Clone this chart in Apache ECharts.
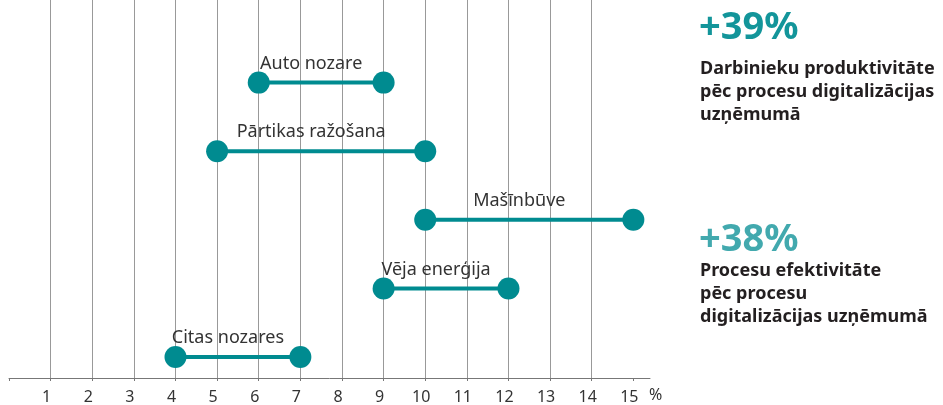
<!DOCTYPE html>
<html>
<head>
<meta charset="utf-8">
<script src="https://cdn.jsdelivr.net/npm/echarts@6/dist/echarts.min.js"></script>
<style>html,body{margin:0;padding:0;background:#fff}#c{width:943px;height:405px}</style>
</head>
<body>
<div id="c"></div>
<script>
// ---- data ----
var categories = ['Auto nozare', 'Pārtikas ražošana', 'Mašīnbūve', 'Vēja enerģija', 'Citas nozares'];
var startValues = [6, 5, 10, 9, 4];
var endValues = [9, 10, 15, 12, 7];
var tickValues = [0, 1, 2, 3, 4, 5, 6, 7, 8, 9, 10, 11, 12, 13, 14, 15];
var tickLabels = [1, 2, 3, 4, 5, 6, 7, 8, 9, 10, 11, 12, 13, 14, 15];
var axisUnit = '%';
var stat1Value = '+39%';
var stat1Text = 'Darbinieku produktivitāte\npēc procesu digitalizācijas\nuzņēmumā';
var stat2Value = '+38%';
var stat2Text = 'Procesu efektivitāte\npēc procesu\ndigitalizācijas uzņēmumā';

// ---- styles ----
var TEAL = '#008b90';
var FONT = '"Noto Sans", "Open Sans", sans-serif';

var seriesData = categories.map(function (c, i) {
  return [startValues[i], endValues[i], i];
});

var chart = echarts.init(document.getElementById('c'), null, { renderer: 'canvas' });
chart.setOption({
  animation: false,
  grid: { left: 9, right: 293, top: 0, bottom: 27, containLabel: false },
  xAxis: {
    type: 'value',
    min: 0,
    max: 15.4,
    interval: 1,
    axisLine: { show: true, onZero: false, lineStyle: { color: '#777', width: 1 } },
    axisTick: { show: true, length: 3, lineStyle: { color: '#777' }, customValues: tickValues },
    axisLabel: {
      customValues: tickLabels,
      color: '#333', fontFamily: FONT, fontSize: 16, margin: 11,
      padding: [0, 8, 0, 0]
    },
    splitLine: { show: true, showMinLine: false, showMaxLine: false, lineStyle: { color: '#999', width: 1 } },
    name: axisUnit,
    nameLocation: 'end',
    nameGap: -1,
    nameTextStyle: { color: '#333', fontFamily: FONT, fontSize: 16, verticalAlign: 'top', padding: [9, 0, 0, 0] }
  },
  yAxis: {
    type: 'value',
    inverse: true,
    min: -1.204,
    max: 4.306,
    show: false,
    splitLine: { show: false }
  },
  series: [{
    type: 'custom',
    data: seriesData,
    encode: { x: [0, 1], y: 2 },
    renderItem: function (params, api) {
      var yi = api.value(2);
      var p1 = api.coord([api.value(0), yi]);
      var p2 = api.coord([api.value(1), yi]);
      return {
        type: 'group',
        children: [
          { type: 'line', shape: { x1: p1[0], y1: p1[1], x2: p2[0], y2: p2[1] }, style: { stroke: TEAL, lineWidth: 4 } },
          { type: 'circle', shape: { cx: p1[0], cy: p1[1], r: 11 }, style: { fill: TEAL } },
          { type: 'circle', shape: { cx: p2[0], cy: p2[1], r: 11 }, style: { fill: TEAL } },
          {
            type: 'text',
            x: (p1[0] + p2[0]) / 2 - 10,
            y: p1[1] - 19,
            style: {
              text: categories[params.dataIndex],
              align: 'center', verticalAlign: 'middle',
              fontFamily: FONT, fontSize: 18, fill: '#333'
            }
          }
        ]
      };
    }
  }],
  graphic: [
    { type: 'text', left: 699, top: 9, style: { text: stat1Value, fontFamily: FONT, fontWeight: 'bold', fontSize: 38, fill: '#13959a' } },
    { type: 'text', left: 700, top: 57, style: { text: stat1Text, fontFamily: FONT, fontWeight: 'bold', fontSize: 18, lineHeight: 23, fill: '#231f20' } },
    { type: 'text', left: 699, top: 221, style: { text: stat2Value, fontFamily: FONT, fontWeight: 'bold', fontSize: 38, fill: '#42a9ae' } },
    { type: 'text', left: 700, top: 259, style: { text: stat2Text, fontFamily: FONT, fontWeight: 'bold', fontSize: 18, lineHeight: 23, fill: '#231f20' } }
  ]
});
</script>
</body>
</html>
